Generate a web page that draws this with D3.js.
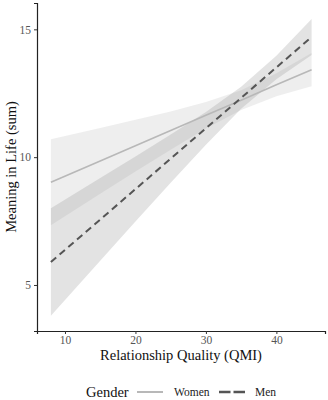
<!DOCTYPE html>
<html><head><meta charset="utf-8">
<script src="https://cdn.jsdelivr.net/npm/d3@7"></script>
<style>body{margin:0;background:#fff}svg{display:block}</style>
</head><body>
<svg id="c" width="328" height="400"></svg>
<script>
const qmi = [8, 15, 20, 25, 30, 35, 40, 45];
const womenFit = [9.02, 9.85, 10.45, 11.04, 11.64, 12.23, 12.83, 13.42];
const womenLo  = [7.34, 8.57, 9.44, 10.29, 11.12, 11.84, 12.38, 12.77];
const womenHi  = [10.70, 11.14, 11.46, 11.79, 12.16, 12.62, 13.28, 14.07];
const menFit = [5.90, 7.56, 8.75, 9.94, 11.13, 12.32, 13.51, 14.70];
const menLo  = [3.80, 5.95, 7.48, 9.00, 10.49, 11.89, 13.05, 14.00];
const menHi  = [8.00, 9.18, 10.03, 10.89, 11.77, 12.75, 13.97, 15.40];
const xTicks = [10, 20, 30, 40];
const yTicks = [5, 10, 15];
const genders = ["Women", "Men"];

const svg = d3.select("#c");
const font = "'Liberation Serif','Times New Roman',serif";
const x = d3.scaleLinear().domain([6.03, 46.9]).range([37, 325]);
const y = d3.scaleLinear().domain([3.2, 16.03]).range([331, 3]);

const series = [
  {name: "Women", fit: womenFit, lo: womenLo, hi: womenHi, fill: "#cccccc", fo: 0.33, stroke: "#b8b8b8", dash: null, legDash: null, w: 1.6},
  {name: "Men", fit: menFit, lo: menLo, hi: menHi, fill: "#999999", fo: 0.27, stroke: "#555555", dash: "7,4.5", legDash: "11.5,3", w: 2}
];

const area = d3.area().x((d,i)=>x(qmi[i])).y0(d=>y(d[0])).y1(d=>y(d[1]));
const line = d3.line().x((d,i)=>x(qmi[i])).y(d=>y(d));

series.forEach(s => {
  svg.append("path").datum(s.lo.map((v,i)=>[v, s.hi[i]]))
    .attr("d", area).attr("fill", s.fill).attr("fill-opacity", s.fo);
});
series.forEach(s => {
  svg.append("path").datum(s.fit).attr("d", line)
    .attr("fill", "none").attr("stroke", s.stroke).attr("stroke-width", s.w)
    .attr("stroke-dasharray", s.dash);
});

const xa = svg.append("g").attr("transform", "translate(0,331)")
  .call(d3.axisBottom(x).tickValues(xTicks).tickSizeOuter(0).tickSize(3).tickPadding(2));
const ya = svg.append("g").attr("transform", "translate(37,0)")
  .call(d3.axisLeft(y).tickValues(yTicks).tickSizeOuter(0).tickSize(3).tickPadding(3));
[xa, ya].forEach(g => {
  g.select(".domain").attr("stroke", "#222").attr("stroke-width", 1.2);
  g.selectAll(".tick line").attr("stroke", "#333");
  g.selectAll(".tick text").attr("fill", "#555").attr("font-family", font).attr("font-size", 11.5);
});

svg.append("text").attr("x", 181).attr("y", 360).attr("text-anchor", "middle")
  .attr("font-family", font).attr("font-size", 14.5).attr("fill", "#111")
  .text("Relationship Quality (QMI)");
svg.append("text").attr("transform", "translate(16,167) rotate(-90)").attr("text-anchor", "middle")
  .attr("font-family", font).attr("font-size", 14.5).attr("fill", "#111")
  .text("Meaning in Life (sum)");

// legend
const lg = svg.append("g");
lg.append("text").attr("x", 86).attr("y", 397).attr("font-family", font)
  .attr("font-size", 14.5).attr("fill", "#111").text("Gender");
const legPos = [{lx: 137, tx: 174}, {lx: 219, tx: 255}];
series.forEach((s, i) => {
  const p = legPos[i];
  lg.append("line").attr("x1", p.lx).attr("x2", p.lx + 26).attr("y1", 392).attr("y2", 392)
    .attr("stroke", s.stroke).attr("stroke-width", s.w + 0.4).attr("stroke-dasharray", s.legDash);
  lg.append("text").attr("x", p.tx).attr("y", 396).attr("font-family", font)
    .attr("font-size", 11.5).attr("fill", "#222").text(genders[i]);
});
</script>
</body></html>
